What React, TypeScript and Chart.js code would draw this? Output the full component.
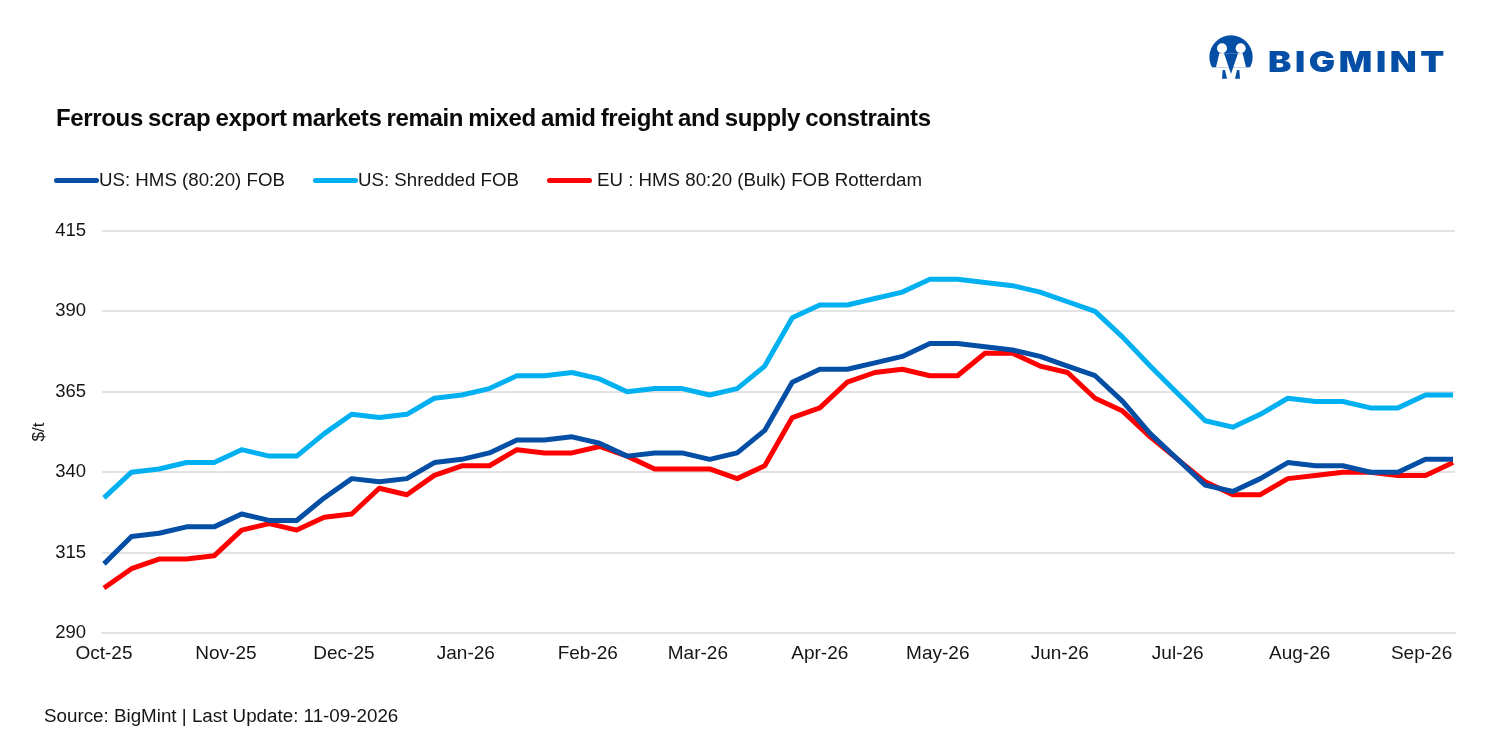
import { useEffect, useRef } from "react";
import { Chart, registerables } from "chart.js";

Chart.register(...registerables);

// days since 1 Oct 2025, one reading a week
const weekDays = [
  0, 7, 14, 21, 28, 35, 42, 49, 56, 63, 70, 77, 84, 91, 98, 105, 112, 119, 126, 133, 140, 147, 154, 161, 168,
  175, 182, 189, 196, 203, 210, 217, 224, 231, 238, 245, 252, 259, 266, 273, 280, 287, 294, 301, 308, 315, 322, 329, 336, 343,
];
const monthDays = [0, 31, 61, 92, 123, 151, 182, 212, 243, 273, 304, 335];
const monthLabels = ["Oct-25", "Nov-25", "Dec-25", "Jan-26", "Feb-26", "Mar-26", "Apr-26", "May-26", "Jun-26", "Jul-26", "Aug-26", "Sep-26"];

const usHms = [
  311.5, 320, 321, 323, 323, 327, 325, 325, 332, 338, 337, 338, 343, 344, 346, 350, 350, 351, 349, 345, 346, 346, 344, 346, 353,
  368, 372, 372, 374, 376, 380, 380, 379, 378, 376, 373, 370, 362, 352, 344, 336, 334, 338, 343, 342, 342, 340, 340, 344, 344,
];
const usShredded = [
  332, 340, 341, 343, 343, 347, 345, 345, 352, 358, 357, 358, 363, 364, 366, 370, 370, 371, 369, 365, 366, 366, 364, 366, 373,
  388, 392, 392, 394, 396, 400, 400, 399, 398, 396, 393, 390, 382, 373, 364.5, 356, 354, 358, 363, 362, 362, 360, 360, 364, 364,
];
const euHms = [
  304, 310, 313, 313, 314, 322, 324, 322, 326, 327, 335, 333, 339, 342, 342, 347, 346, 346, 348, 345, 341, 341, 341, 338, 342,
  357, 360, 368, 371, 372, 370, 370, 377, 377, 373, 371, 363, 359, 351, 344, 337, 333, 333, 338, 339, 340, 340, 339, 339, 343,
];

const seriesNames = ["US: HMS (80:20) FOB", "US: Shredded FOB", "EU : HMS 80:20 (Bulk) FOB Rotterdam"];
const seriesColors = ["#044FA5", "#00B0F0", "#FF0000"];

const FONT = "'Liberation Sans', Arial, sans-serif";
const INK = "#151515";
const LOGO_BLUE = "#044FA5";

const toPoints = (values: number[]) => values.map((y, i) => ({ x: weekDays[i], y }));

function Logo() {
  return (
    <>
      <svg width="62" height="54" viewBox="0 0 186 162" style={{ position: "absolute", left: 1200, top: 30 }}>
        <circle cx="93" cy="81" r="65" fill={LOGO_BLUE} />
        <rect x="0" y="112" width="186" height="50" fill="#fff" />
        <path d="M58 70 L128 70 L138 112 L48 112 Z" fill="#fff" />
        <path d="M72 70 L114 70 L93 132 Z" fill={LOGO_BLUE} />
        <path d="M68 120 L75 120 L81 146 L66 146 Z M118 120 L111 120 L105 146 L120 146 Z" fill={LOGO_BLUE} />
        <circle cx="66" cy="55" r="15" fill="#fff" />
        <circle cx="122" cy="55" r="15" fill="#fff" />
      </svg>
      <svg width="190" height="30" viewBox="0 0 190 30" style={{ position: "absolute", left: 1264, top: 46 }}>
        <text x="4" y="26" fill={LOGO_BLUE} fontFamily="Inter, sans-serif" fontWeight="900" fontSize="29" letterSpacing="3" textLength="180" lengthAdjust="spacingAndGlyphs">
          BIGMINT
        </text>
      </svg>
    </>
  );
}

export default function App() {
  const canvasRef = useRef<HTMLCanvasElement>(null);

  useEffect(() => {
    if (!canvasRef.current) return;

    const chart = new Chart(canvasRef.current, {
      type: "line",
      data: {
        datasets: [usHms, usShredded, euHms].map((values, i) => ({
          label: seriesNames[i],
          data: toPoints(values),
          borderColor: seriesColors[i],
          backgroundColor: seriesColors[i],
          borderWidth: 5,
          borderCapStyle: "butt" as const,
          borderJoinStyle: "round" as const,
          pointRadius: 0,
          tension: 0,
        })),
      },
      options: {
        responsive: false,
        animation: false,
        layout: { padding: { top: 231, right: 41, left: 0, bottom: 0 } },
        plugins: { legend: { display: false }, title: { display: false }, tooltip: { enabled: false } },
        scales: {
          x: {
            type: "linear",
            min: -0.5,
            max: 343.5,
            afterBuildTicks: (scale) => {
              scale.ticks = monthDays.map((value) => ({ value }));
            },
            afterFit: (scale) => {
              scale.height = 117;
            },
            grid: { display: false },
            border: { display: true, color: "#E3E3E3", width: 2 },
            ticks: {
              autoSkip: false,
              maxRotation: 0,
              padding: 1,
              color: INK,
              font: { family: FONT, size: 19 },
              callback: (_v, i) => monthLabels[i],
            },
          },
          y: {
            min: 290,
            max: 415,
            afterFit: (scale) => {
              scale.width = 102;
            },
            grid: { color: "#E3E3E3", lineWidth: 2, drawTicks: false },
            border: { display: false },
            title: {
              display: true,
              text: "$/t",
              color: INK,
              font: { family: FONT, size: 17 },
              padding: { top: 29, bottom: 0 },
            },
            ticks: {
              stepSize: 25,
              padding: 16,
              color: INK,
              font: { family: FONT, size: 18.5 },
            },
          },
        },
      },
    });

    return () => {
      chart.destroy();
    };
  }, []);

  return (
    <div style={{ position: "absolute", left: 0, top: 0, width: 1496, height: 750, background: "#fff", fontFamily: FONT, color: INK, overflow: "hidden" }}>
      <canvas ref={canvasRef} width={1496} height={750} style={{ position: "absolute", left: 0, top: 0 }} />
      <Logo />
      <div style={{ position: "absolute", left: 56, top: 103, fontSize: 24, fontWeight: 700, lineHeight: "30px", whiteSpace: "nowrap", letterSpacing: -0.35, wordSpacing: -1.2, color: "#0a0a0a" }}>
        Ferrous scrap export markets remain mixed amid freight and supply constraints
      </div>
      {[54, 313, 547].map((left, i) => (
        <div key={seriesNames[i]} style={{ position: "absolute", left, top: 168, height: 24, display: "flex", alignItems: "center", whiteSpace: "nowrap", fontSize: 18.7 }}>
          <span style={{ display: "inline-block", width: 45, height: 5, borderRadius: 3, background: seriesColors[i], marginRight: i === 2 ? 5 : 0 }} />
          {seriesNames[i]}
        </div>
      ))}
      <div style={{ position: "absolute", left: 44, top: 704, fontSize: 18.8, lineHeight: "24px", whiteSpace: "nowrap" }}>
        Source: BigMint | Last Update: 11-09-2026
      </div>
    </div>
  );
}
